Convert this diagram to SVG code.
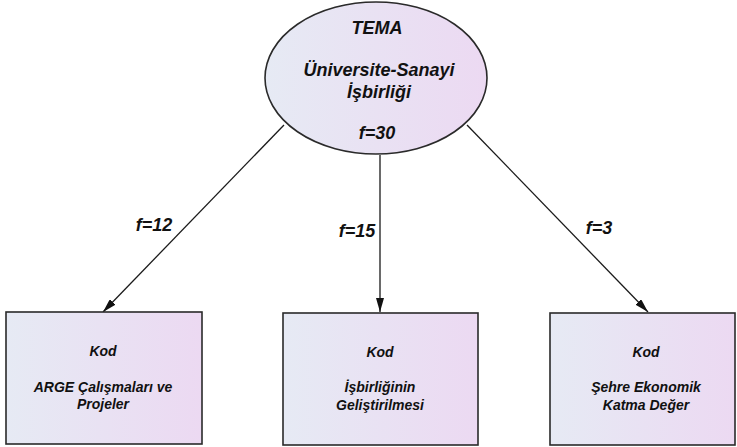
<svg xmlns="http://www.w3.org/2000/svg" width="737" height="447" viewBox="0 0 737 447">
<style>
.t{font-family:"Liberation Sans",Arial,sans-serif;font-weight:bold;font-style:italic;fill:#111;text-anchor:middle}
.big{font-size:18px}
.sm{font-size:14px}
.lbl{font-size:18px}
.shape{fill:url(#g);stroke:#2a2a2a;stroke-width:1.6}
.conn{stroke:#1a1a1a;stroke-width:1.3;fill:none;marker-end:url(#ah)}
</style>
<defs>
<linearGradient id="g" x1="0" y1="0" x2="1" y2="0">
<stop offset="0" stop-color="#e6eaf4"/>
<stop offset="1" stop-color="#ecd9f2"/>
</linearGradient>
<marker id="ah" viewBox="0 0 14 8" refX="14" refY="4" markerWidth="14" markerHeight="8" markerUnits="userSpaceOnUse" orient="auto">
<path d="M0,0 L14,4 L0,8 Z" fill="#111"/>
</marker>
</defs>
<g id="connectors">
<line class="conn" x1="284" y1="125" x2="103" y2="312"/>
<line class="conn" x1="380" y1="155" x2="380" y2="312"/>
<line class="conn" x1="467" y1="125" x2="648" y2="312"/>
<text class="t lbl" x="154" y="231">f=12</text>
<text class="t lbl" x="357" y="237">f=15</text>
<text class="t lbl" x="599" y="234">f=3</text>
</g>
<g id="tema">
<ellipse class="shape" cx="376" cy="78" rx="111" ry="76"/>
<text class="t big" x="377" y="34">TEMA</text>
<text class="t big" x="379" y="76">Üniversite-Sanayi</text>
<text class="t big" x="379" y="98">İşbirliği</text>
<text class="t big" x="377" y="139">f=30</text>
</g>
<g id="kod1">
<rect class="shape" x="6" y="312" width="196" height="132"/>
<text class="t sm" x="103" y="356">Kod</text>
<text class="t sm" x="103" y="392">ARGE Çalışmaları ve</text>
<text class="t sm" x="103" y="409">Projeler</text>
</g>
<g id="kod2">
<rect class="shape" x="283" y="313" width="195" height="132"/>
<text class="t sm" x="380" y="357">Kod</text>
<text class="t sm" x="380" y="392">İşbirliğinin</text>
<text class="t sm" x="380" y="410">Geliştirilmesi</text>
</g>
<g id="kod3">
<rect class="shape" x="550" y="313" width="185" height="132"/>
<text class="t sm" x="646" y="357">Kod</text>
<text class="t sm" x="646" y="392">Şehre Ekonomik</text>
<text class="t sm" x="646" y="410">Katma Değer</text>
</g>
</svg>
